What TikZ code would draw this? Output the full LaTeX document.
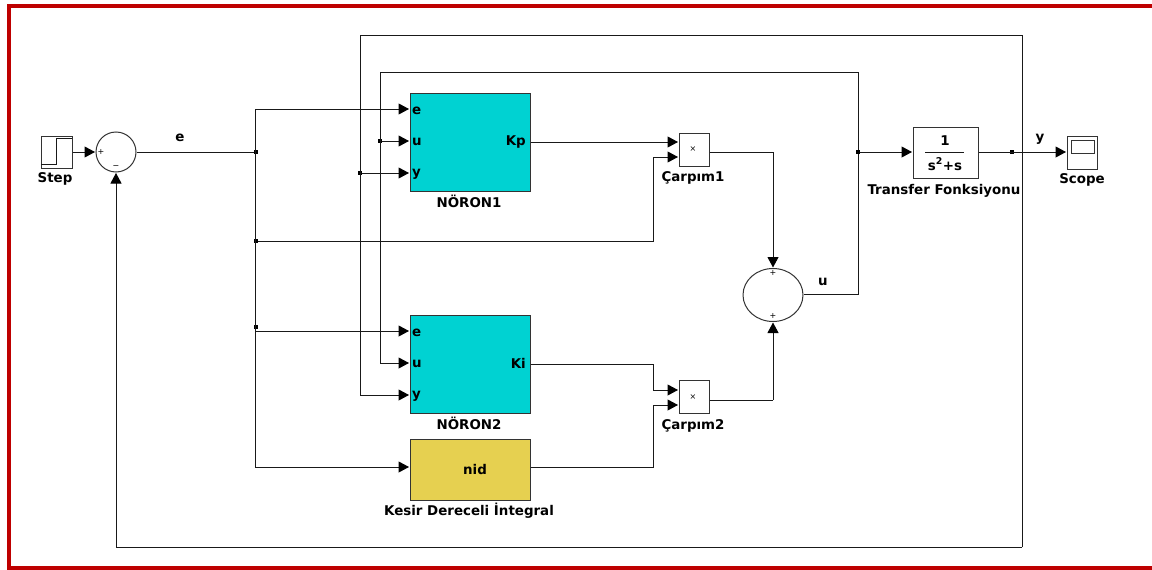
\documentclass[tikz,border=0pt]{standalone}
\usepackage{fontspec}
\setmainfont{DejaVu Sans}
\usetikzlibrary{arrows.meta, positioning, shapes.geometric}
\definecolor{frameRed}{HTML}{BE0000}
\definecolor{neuronCyan}{HTML}{00D2D2}
\definecolor{nidYellow}{HTML}{E6D050}

\tikzset{
  wire/.style={line width=1pt, draw=black!90},
  sig/.style={wire, -{Stealth[length=10.5pt, width=11pt, inset=0pt, color=black]}, shorten >=0.5pt},
  block/.style={draw=black!80, line width=1pt, inner sep=0pt},
  neuron/.style={block, fill=neuronCyan, minimum width=120pt, minimum height=98pt},
  prod/.style={block, minimum width=30pt, minimum height=33pt},
  lbl/.style={font=\bfseries\fontsize{13.4}{15}\selectfont, inner sep=0pt},
  tiny/.style={font=\fontsize{8}{8}\selectfont, inner sep=0pt},
  junc/.style={fill=black, inner sep=0pt, minimum size=3.5pt}
}

\begin{document}
\begin{tikzpicture}[x=1pt, y=-1pt]
    \useasboundingbox (0,0) rectangle (1152,570);
    \coordinate (frmA) at (1152,6.2);
    \coordinate (frmB) at (8.7,6.2);
    \coordinate (frmC) at (8.7,568);
    \coordinate (frmD) at (1152,568);
    \draw[frameRed, line width=3.8pt] (frmA) -- (frmB) -- (frmC) -- (frmD);

    % blocks
    \node[block, minimum width=31pt, minimum height=32pt] (step) at (56.5,152) {};
    \node[circle, block, minimum size=40pt] (sum1) at (116,152) {};
    \node[neuron] (nrn1) at (470,142) {};
    \node[neuron] (nrn2) at (470,364) {};
    \node[block, fill=nidYellow, minimum width=120pt, minimum height=61pt] (nid) at (470,469.5) {};
    \node[prod] (mul1) at (694,149.5) {};
    \node[prod] (mul2) at (694,397) {};
    \node[ellipse, block, minimum width=60pt, minimum height=53pt] (sum2) at (773,295) {};
    \node[block, minimum width=65pt, minimum height=51pt] (tf) at (945.5,152.5) {};
    \node[block, minimum width=30pt, minimum height=33pt] (scope) at (1082,152.5) {};
    \node[draw=black!80, line width=0.8pt, minimum width=23pt, minimum height=13pt, inner sep=0pt] (screen) at (1082.5,146.5) {};

    % block texts
    \node[lbl] (stepL) at (55,179) {Step};
    \node[lbl] (eL) at (180,138) {e};
    \node[lbl] (nrn1L) at (469,201) {NÖRON1};
    \node[lbl] (nrn2L) at (469,423) {NÖRON2};
    \node[lbl] (nidT) at (475,469) {nid};
    \node[lbl] (nidL) at (469,511) {Kesir Dereceli İntegral};
    \node[lbl] (mul1L) at (693,178) {Çarpım1};
    \node[lbl] (mul2L) at (693,426) {Çarpım2};
    \node[lbl] (uL) at (823,282) {u};
    \node[lbl] (tfL) at (944,190.5) {Transfer Fonksiyonu};
    \node[lbl] (yL) at (1040,139) {y};
    \node[lbl] (scopeL) at (1082,180) {Scope};
    \node[lbl] (tfN) at (945,141) {1};
    \node[lbl] (tfD) at (945,164) {s$^{\mathbf 2}$+s};

    \node[lbl, anchor=west] (n1e) at (412,111) {e};
    \node[lbl, anchor=west] (n1u) at (412,142) {u};
    \node[lbl, anchor=west] (n1y) at (412,174) {y};
    \node[lbl, anchor=east] (n1k) at (526,142) {Kp};
    \node[lbl, anchor=west] (n2e) at (412,333) {e};
    \node[lbl, anchor=west] (n2u) at (412,364) {u};
    \node[lbl, anchor=west] (n2y) at (412,396) {y};
    \node[lbl, anchor=east] (n2k) at (526,363) {Ki};

    % small signs
    \node[tiny] (s1p) at (101,152) {+};
    \node[tiny] (s1m) at (116,167) {−};
    \node[tiny] (s2a) at (773,273) {+};
    \node[tiny] (s2b) at (773,316) {+};
    \node[tiny] (m1x) at (693,149) {×};
    \node[tiny] (m2x) at (693,397) {×};

    % step icon and fraction bar
    \coordinate (stepA) at (41,164);
    \coordinate (stepB) at (56,164);
    \coordinate (stepC) at (56,138);
    \coordinate (stepD) at (72,138);
    \draw[wire, line width=0.8pt] (stepA) -- (stepB) -- (stepC) -- (stepD);
    \coordinate (barA) at (925,152);
    \coordinate (barB) at (964,152);
    \draw[wire, line width=0.8pt] (barA) -- (barB);

    % junctions
    \coordinate (eTop) at (255,109);
    \node[junc] (jE) at (256,152) {};
    \node[junc] (jMul) at (256,241) {};
    \node[junc] (jN2) at (256,327) {};
    \coordinate (eBot) at (255,467);
    \node[junc] (jU1) at (380,141) {};
    \node[junc] (jY1) at (360,173) {};
    \node[junc] (jU) at (858,152) {};
    \node[junc] (jY) at (1012,152) {};
    \coordinate (eN2) at (255,331);
    \coordinate (uTop) at (858,72);
    \coordinate (uLeft) at (380,72);
    \coordinate (uDown) at (380,363);
    \coordinate (yRight) at (1022,152);
    \coordinate (yTop) at (1022,35);
    \coordinate (yLeft) at (360,35);
    \coordinate (yDown) at (360,395);
    \coordinate (yBot) at (1022,547);
    \coordinate (yBack) at (116,547);
    \coordinate (uOut) at (858,294);
    \coordinate (m1a) at (653,241);
    \coordinate (m1b) at (653,157);
    \coordinate (m2a) at (653,364);
    \coordinate (m2b) at (653,390);
    \coordinate (m2c) at (653,467);
    \coordinate (m2d) at (653,405);
    \coordinate (m1o) at (773,152);
    \coordinate (m2o) at (773,400);

    % forward path
    \draw[sig] (step.east) -- (sum1.west);
    \draw[wire] (sum1.east) -- (jE);
    \draw[wire] (eTop) -- (eBot);
    \draw[sig] (eTop) -- (eTop -| nrn1.west);
    \draw[sig] (eN2) -- (eN2 -| nrn2.west);
    \draw[sig] (eBot) -- (eBot -| nid.west);
    \draw[wire] (jMul) -- (m1a) -- (m1b);
    \draw[sig] (m1b) -- (m1b -| mul1.west);

    % neuron outputs
    \draw[sig] (nrn1.east) -- (nrn1.east -| mul1.west);
    \draw[wire] (nrn2.east) -- (m2a) -- (m2b);
    \draw[sig] (m2b) -- (m2b -| mul2.west);
    \draw[wire] (nid.east |- m2c) -- (m2c) -- (m2d);
    \draw[sig] (m2d) -- (m2d -| mul2.west);

    % products to sum
    \draw[wire] (mul1.east |- m1o) -- (m1o);
    \draw[sig] (m1o) -- (sum2.north);
    \draw[wire] (mul2.east |- m2o) -- (m2o);
    \draw[sig] (m2o) -- (sum2.south);

    % plant
    \draw[wire] (sum2.east |- uOut) -- (uOut) -- (jU);
    \draw[sig] (jU) -- (tf.west |- jU);
    \draw[wire] (tf.east |- jY) -- (yRight);
    \draw[sig] (yRight) -- (scope.west |- yRight);

    % u feedback
    \draw[wire] (jU) -- (uTop) -- (uLeft) -- (uDown);
    \draw[sig] (uDown) -- (uDown -| nrn2.west);
    \draw[sig] (jU1) -- (jU1 -| nrn1.west);

    % y feedback
    \draw[wire] (yBot) -- (yTop) -- (yLeft) -- (yDown);
    \draw[sig] (yDown) -- (yDown -| nrn2.west);
    \draw[sig] (jY1) -- (jY1 -| nrn1.west);
    \draw[wire] (yBot) -- (yBack);
    \draw[sig] (yBack) -- (sum1.south);
  \end{tikzpicture}
\end{document}
